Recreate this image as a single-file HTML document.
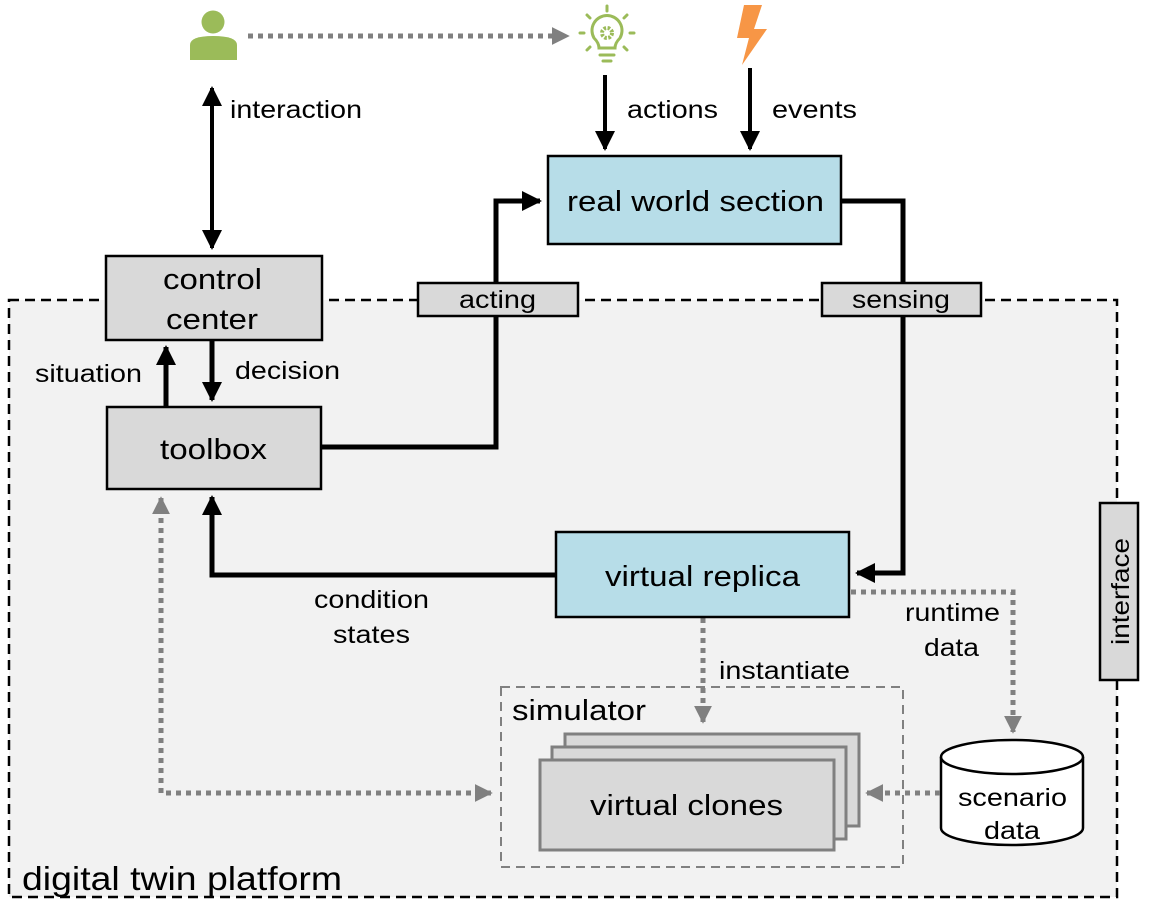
<!DOCTYPE html>
<html><head><meta charset="utf-8"><style>
html,body{margin:0;padding:0;background:#fff;}
svg{display:block;font-family:"Liberation Sans",Arial,sans-serif;}
</style></head><body>
<svg width="1154" height="922" viewBox="0 0 1154 922" xmlns="http://www.w3.org/2000/svg" font-family="Liberation Sans, Arial, sans-serif">
<defs>
<marker id="ab" viewBox="0 0 10 10" refX="9" refY="5" markerWidth="4" markerHeight="4" orient="auto-start-reverse" markerUnits="strokeWidth"><path d="M0,0 L10,5 L0,10 z" fill="#000"/></marker>
<marker id="ab2" viewBox="0 0 10 10" refX="9" refY="5" markerWidth="5" markerHeight="5" orient="auto-start-reverse" markerUnits="strokeWidth"><path d="M0,0 L10,5 L0,10 z" fill="#000"/></marker>
<marker id="ag" viewBox="0 0 10 10" refX="9" refY="5" markerWidth="3.6" markerHeight="3.6" orient="auto-start-reverse" markerUnits="strokeWidth"><path d="M0,0 L10,5 L0,10 z" fill="#808080"/></marker>
</defs>
<rect x="9" y="300" width="1108" height="597" fill="#f2f2f2" stroke="#000" stroke-width="2.5" stroke-dasharray="10,6"/>
<text x="22" y="890" font-size="33" textLength="320" lengthAdjust="spacingAndGlyphs">digital twin platform</text>
<rect x="501" y="687" width="402" height="180" fill="none" stroke="#808080" stroke-width="2" stroke-dasharray="9,6"/>
<text x="512" y="720" font-size="29" textLength="134" lengthAdjust="spacingAndGlyphs">simulator</text>
<rect x="565" y="734" width="294" height="92" fill="#d9d9d9" stroke="#808080" stroke-width="3"/>
<rect x="552" y="747" width="294" height="92" fill="#d9d9d9" stroke="#808080" stroke-width="3"/>
<rect x="540" y="760" width="294" height="90" fill="#d9d9d9" stroke="#808080" stroke-width="3"/>
<text x="590" y="815" font-size="29" textLength="193" lengthAdjust="spacingAndGlyphs">virtual clones</text>
<path d="M941,757 L941,828 A71,17 0 0 0 1083,828 L1083,757" fill="#fff" stroke="#000" stroke-width="2.5"/>
<ellipse cx="1012" cy="757" rx="71" ry="17" fill="#fff" stroke="#000" stroke-width="2.5"/>
<text x="958" y="806" font-size="25" textLength="109" lengthAdjust="spacingAndGlyphs">scenario</text>
<text x="984" y="839" font-size="25" textLength="56" lengthAdjust="spacingAndGlyphs">data</text>
<rect x="1100" y="503" width="38" height="177" fill="#d9d9d9" stroke="#000" stroke-width="2.5"/>
<text transform="translate(1129,645) rotate(-90)" font-size="25" textLength="107" lengthAdjust="spacingAndGlyphs">interface</text>
<g stroke="#000" stroke-width="5" fill="none">
<polyline points="321,447 496,447 496,201 540,201" marker-end="url(#ab)"/>
<polyline points="841,201 903,201 903,573 857,573" marker-end="url(#ab)"/>
<polyline points="556,575 212,575 212,497" marker-end="url(#ab)"/>
<line x1="166" y1="407" x2="166" y2="347" marker-end="url(#ab)"/>
<line x1="212" y1="341" x2="212" y2="400" marker-end="url(#ab)"/>
</g>
<g stroke="#000" stroke-width="4" fill="none">
<line x1="212" y1="88" x2="212" y2="248" marker-start="url(#ab2)" marker-end="url(#ab2)"/>
<line x1="605" y1="75" x2="605" y2="149" marker-end="url(#ab2)"/>
<line x1="750" y1="68" x2="750" y2="149" marker-end="url(#ab2)"/>
</g>
<g stroke="#808080" stroke-width="5" fill="none" stroke-dasharray="5,5">
<line x1="248" y1="36" x2="568" y2="36" marker-end="url(#ag)"/>
<polyline points="161,498 161,793 491,793" marker-start="url(#ag)" marker-end="url(#ag)"/>
<line x1="703" y1="618" x2="703" y2="722" marker-end="url(#ag)"/>
<polyline points="851,592 1013,592 1013,732" marker-end="url(#ag)"/>
<line x1="940" y1="793" x2="867" y2="793" marker-end="url(#ag)"/>
</g>
<rect x="106" y="256" width="216" height="84" fill="#d9d9d9" stroke="#000" stroke-width="2.5"/>
<text x="163" y="289" font-size="29" textLength="99" lengthAdjust="spacingAndGlyphs">control</text>
<text x="166" y="329" font-size="29" textLength="92" lengthAdjust="spacingAndGlyphs">center</text>
<rect x="107" y="407" width="214" height="82" fill="#d9d9d9" stroke="#000" stroke-width="2.5"/>
<text x="160" y="459" font-size="29" textLength="107" lengthAdjust="spacingAndGlyphs">toolbox</text>
<rect x="548" y="156" width="293" height="88" fill="#b7dde8" stroke="#000" stroke-width="2.5"/>
<text x="567" y="211" font-size="29" textLength="257" lengthAdjust="spacingAndGlyphs">real world section</text>
<rect x="556" y="532" width="293" height="85" fill="#b7dde8" stroke="#000" stroke-width="2.5"/>
<text x="605" y="586" font-size="29" textLength="195" lengthAdjust="spacingAndGlyphs">virtual replica</text>
<rect x="418" y="283" width="160" height="33" fill="#d9d9d9" stroke="#000" stroke-width="2.5"/>
<text x="459" y="308" font-size="25" textLength="77" lengthAdjust="spacingAndGlyphs">acting</text>
<rect x="822" y="283" width="159" height="33" fill="#d9d9d9" stroke="#000" stroke-width="2.5"/>
<text x="852" y="308" font-size="25" textLength="98" lengthAdjust="spacingAndGlyphs">sensing</text>
<g font-size="25">
<text x="230" y="118" textLength="132" lengthAdjust="spacingAndGlyphs">interaction</text>
<text x="627" y="118" textLength="91" lengthAdjust="spacingAndGlyphs">actions</text>
<text x="772" y="118" textLength="85" lengthAdjust="spacingAndGlyphs">events</text>
<text x="35" y="382" textLength="107" lengthAdjust="spacingAndGlyphs">situation</text>
<text x="235" y="379" textLength="105" lengthAdjust="spacingAndGlyphs">decision</text>
<text x="314" y="608" textLength="115" lengthAdjust="spacingAndGlyphs">condition</text>
<text x="333" y="643" textLength="77" lengthAdjust="spacingAndGlyphs">states</text>
<text x="719" y="679" textLength="131" lengthAdjust="spacingAndGlyphs">instantiate</text>
<text x="905" y="621" textLength="95" lengthAdjust="spacingAndGlyphs">runtime</text>
<text x="924" y="656" textLength="55" lengthAdjust="spacingAndGlyphs">data</text>
</g>
<circle cx="213" cy="22" r="11.5" fill="#9bbb59"/>
<path d="M190,60 L190,45 Q190,36 213,36 Q237,36 237,45 L237,60 Z" fill="#9bbb59"/>
<g stroke="#9bbb59" stroke-width="3" fill="none" stroke-linecap="round">
<path d="M599,48 Q599,43 594,38 A15,15 0 1 1 620,38 Q615,43 615,48 Z"/>
<line x1="600" y1="55" x2="614" y2="55"/>
<line x1="603" y1="61" x2="611" y2="61"/>
<line x1="607" y1="6" x2="607" y2="11"/>
<line x1="587" y1="15" x2="590" y2="18"/>
<line x1="627" y1="15" x2="624" y2="18"/>
<line x1="580" y1="33" x2="584" y2="33"/>
<line x1="630" y1="33" x2="634" y2="33"/>
<line x1="587" y1="50" x2="590" y2="47"/>
<line x1="627" y1="50" x2="624" y2="47"/>
</g>
<circle cx="607" cy="33" r="5" fill="none" stroke="#9bbb59" stroke-width="4" stroke-dasharray="2.5,1.5"/>
<polygon points="744,5 762,5 754,29 767,29 742,65 749,38 737,38" fill="#f79646"/>
</svg>
</body></html>
